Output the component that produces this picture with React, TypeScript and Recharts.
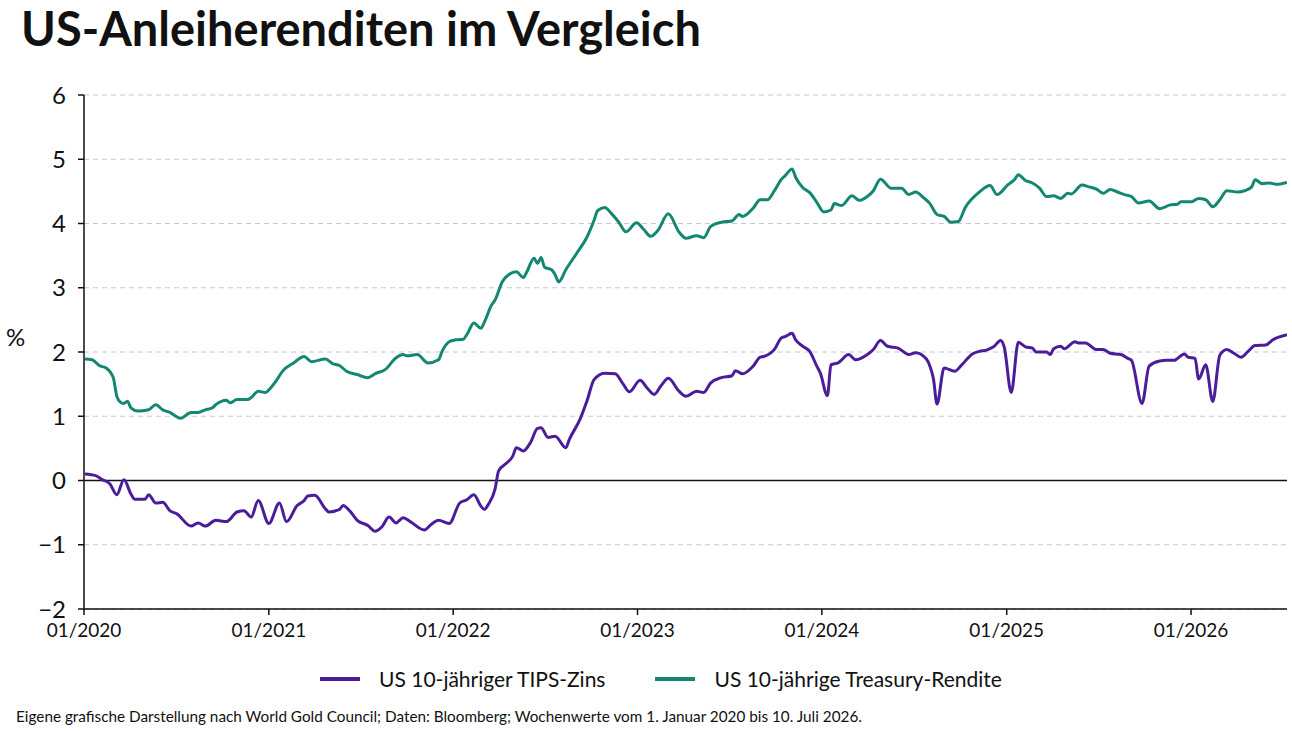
import { LineChart, Line, XAxis, YAxis, CartesianGrid, ReferenceLine } from 'recharts';

const DAY = 86400000;
// weekly values, week 0 = Friday 3 Jan 2020
const FIRST_WEEK = Date.UTC(2020, 0, 3);
const START = Date.UTC(2020, 0, 1);
const END = Date.UTC(2026, 6, 10);

const yearTicks = [2020, 2021, 2022, 2023, 2024, 2025, 2026];
const yTicks = [-2, -1, 0, 1, 2, 3, 4, 5, 6];

const tipsWeeks = [
  0, 3, 5, 7, 9, 11, 13, 14, 17, 18, 20, 22, 24, 26, 30, 32, 34, 37, 40, 43, 45, 47, 49, 52, 55, 57, 60, 62, 63,
  65, 68, 69, 72, 73, 75, 77, 80, 82, 84, 86, 88, 90, 92, 96, 98, 100, 103, 106, 108, 110, 112, 113, 114, 116,
  117, 119, 121, 122, 124, 126, 128, 129, 131, 133, 136, 137, 140, 142, 144, 147, 150, 152, 154, 157, 159, 161,
  163, 165, 168, 170, 173, 175, 177, 180, 183, 184, 186, 189, 191, 192, 195, 197, 198, 200, 201, 203, 205, 207,
  208, 210, 211, 213, 216, 218, 221, 223, 225, 227, 230, 233, 235, 238, 239, 240, 241, 243, 246, 248, 251, 253,
  255, 257, 259, 260, 262, 264, 266, 268, 269, 272, 273, 274, 276, 277, 280, 281, 283, 286, 288, 290, 293, 295,
  296, 299, 301, 304, 306, 308, 311, 312, 314, 315, 317, 319, 321, 323, 325, 327, 329, 331, 334, 336, 340,
];
const tipsValues = [
  0.1, 0.075, 0.01, -0.05, -0.22, 0.01, -0.21, -0.29, -0.29, -0.22, -0.35, -0.34, -0.47, -0.52, -0.71, -0.66,
  -0.71, -0.62, -0.64, -0.49, -0.47, -0.57, -0.31, -0.67, -0.35, -0.64, -0.39, -0.31, -0.24, -0.23, -0.44, -0.49,
  -0.45, -0.39, -0.48, -0.62, -0.7, -0.79, -0.72, -0.57, -0.66, -0.58, -0.64, -0.77, -0.68, -0.62, -0.67, -0.35,
  -0.3, -0.22, -0.4, -0.45, -0.38, -0.13, 0.15, 0.26, 0.38, 0.51, 0.46, 0.59, 0.81, 0.82, 0.67, 0.69, 0.51, 0.64,
  0.95, 1.24, 1.57, 1.67, 1.66, 1.52, 1.38, 1.56, 1.44, 1.34, 1.48, 1.59, 1.39, 1.31, 1.39, 1.37, 1.52, 1.6, 1.63,
  1.71, 1.66, 1.78, 1.92, 1.93, 2.04, 2.22, 2.24, 2.29, 2.19, 2.09, 2.01, 1.78, 1.67, 1.32, 1.8, 1.83, 1.96, 1.88,
  1.95, 2.04, 2.18, 2.09, 2.06, 1.96, 1.99, 1.89, 1.78, 1.58, 1.19, 1.75, 1.7, 1.8, 1.97, 2.01, 2.03, 2.08, 2.18,
  2.08, 1.37, 2.15, 2.08, 2.06, 2.0, 2.0, 1.96, 2.05, 2.09, 2.05, 2.16, 2.14, 2.14, 2.04, 2.04, 1.98, 1.96, 1.9,
  1.87, 1.2, 1.78, 1.86, 1.87, 1.87, 1.97, 1.92, 1.9, 1.58, 1.8, 1.23, 1.95, 2.04, 1.98, 1.92, 2.01, 2.1, 2.11,
  2.19, 2.27,
];

const treasuryWeeks = [
  0, 2, 4, 6, 8, 9, 10, 11, 12, 13, 15, 18, 20, 22, 24, 27, 30, 32, 34, 36, 37, 40, 41, 43, 46, 47, 49, 51, 52, 54,
  56, 59, 62, 64, 68, 70, 72, 74, 77, 80, 82, 85, 88, 90, 91, 94, 97, 100, 101, 103, 105, 107, 108, 110, 112, 113,
  115, 116, 118, 120, 122, 124, 125, 127, 128, 129, 130, 132, 133, 134, 136, 139, 142, 144, 145, 147, 149, 151,
  153, 156, 158, 160, 162, 165, 168, 170, 173, 175, 177, 180, 183, 185, 186, 189, 191, 193, 195, 197, 198, 200,
  201, 203, 205, 207, 209, 211, 212, 214, 217, 219, 221, 223, 225, 228, 231, 233, 235, 237, 239, 241, 243, 245,
  247, 249, 253, 256, 258, 261, 263, 264, 266, 268, 270, 272, 274, 276, 278, 279, 282, 284, 286, 288, 290, 292,
  294, 296, 298, 301, 304, 307, 309, 310, 313, 315, 317, 319, 321, 323, 326, 328, 330, 331, 333, 335, 337, 340,
];
const treasuryValues = [
  1.89, 1.88, 1.79, 1.75, 1.6, 1.31, 1.22, 1.2, 1.235, 1.13, 1.08, 1.1, 1.18, 1.1, 1.06, 0.97, 1.06, 1.06, 1.1,
  1.13, 1.18, 1.25, 1.21, 1.26, 1.26, 1.29, 1.39, 1.37, 1.41, 1.545, 1.71, 1.83, 1.93, 1.85, 1.89, 1.82, 1.79, 1.7,
  1.65, 1.6, 1.66, 1.73, 1.91, 1.96, 1.94, 1.96, 1.83, 1.88, 2.01, 2.16, 2.19, 2.2, 2.27, 2.45, 2.37, 2.47, 2.73,
  2.81, 3.09, 3.21, 3.25, 3.16, 3.25, 3.46, 3.38, 3.47, 3.32, 3.28, 3.2, 3.09, 3.28, 3.53, 3.79, 4.05, 4.2, 4.25,
  4.15, 4.02, 3.87, 4.01, 3.91, 3.8, 3.89, 4.15, 3.87, 3.77, 3.81, 3.78, 3.955, 4.02, 4.04, 4.14, 4.11, 4.24, 4.37,
  4.37, 4.51, 4.69, 4.74, 4.85, 4.72, 4.56, 4.48, 4.33, 4.18, 4.21, 4.31, 4.28, 4.43, 4.36, 4.41, 4.51, 4.69, 4.55,
  4.55, 4.45, 4.49, 4.41, 4.31, 4.14, 4.11, 4.02, 4.03, 4.25, 4.49, 4.59, 4.45, 4.6, 4.69, 4.76, 4.67, 4.63, 4.55,
  4.42, 4.43, 4.39, 4.47, 4.46, 4.6, 4.57, 4.54, 4.47, 4.53, 4.49, 4.45, 4.42, 4.32, 4.35, 4.23, 4.29, 4.3, 4.34,
  4.34, 4.39, 4.37, 4.26, 4.37, 4.51, 4.49, 4.51, 4.57, 4.68, 4.62, 4.63, 4.61, 4.64,
];

const seriesNames = ['US 10-jähriger TIPS-Zins', 'US 10-jährige Treasury-Rendite'];
const seriesColors = ['#4c1d9b', '#138770'];

const FONT = 'Lato, "Open Sans", sans-serif';

const toPoints = (weeks: number[], values: number[]) =>
  weeks.map((w, i) => ({ t: FIRST_WEEK + w * 7 * DAY, v: values[i] }));

const tipsData = toPoints(tipsWeeks, tipsValues);
const treasuryData = toPoints(treasuryWeeks, treasuryValues);

const formatYear = (t: number) => '01/' + new Date(t).getUTCFullYear();
const formatPct = (v: number) => (v < 0 ? '\u2212' + Math.abs(v) : String(v));

export default function App() {
  return (
    <div
      style={{
        position: 'absolute',
        left: 0,
        top: 0,
        width: 1292,
        height: 733,
        background: '#fff',
        fontFamily: FONT,
        color: '#111',
      }}
    >
      <div style={{ position: 'absolute', left: 21, top: 0, fontSize: 47, fontWeight: 700, letterSpacing: 0 }}>
        US-Anleiherenditen im Vergleich
      </div>
      <div style={{ position: 'absolute', left: 6, top: 322, fontSize: 24 }}>%</div>

      <div style={{ position: 'absolute', left: 0, top: 0 }}>
        <LineChart width={1292} height={733} margin={{ top: 95, right: 5, left: 0, bottom: 84 }}>
          <CartesianGrid horizontal vertical={false} stroke="#c8c8c8" strokeDasharray="5 4" />
          <XAxis
            dataKey="t"
            type="number"
            domain={[START, END]}
            ticks={yearTicks.map((y) => Date.UTC(y, 0, 1))}
            tickFormatter={formatYear}
            allowDataOverflow
            height={40}
            stroke="#111"
            strokeWidth={1.5}
            tickSize={6}
            tickMargin={9}
            tick={{ fontSize: 19, fill: '#111', fontFamily: FONT }}
          />
          <YAxis
            type="number"
            domain={[-2, 6]}
            ticks={yTicks}
            tickFormatter={formatPct}
            width={84}
            stroke="#111"
            strokeWidth={1.5}
            tickSize={6}
            tickMargin={12}
            tick={{ fontSize: 24, fill: '#111', fontFamily: FONT }}
          />
          <ReferenceLine y={0} stroke="#111" strokeWidth={1.5} />
          <Line
            data={treasuryData}
            dataKey="v"
            name={seriesNames[1]}
            type="monotone"
            stroke={seriesColors[1]}
            strokeWidth={3}
            dot={false}
            isAnimationActive={false}
          />
          <Line
            data={tipsData}
            dataKey="v"
            name={seriesNames[0]}
            type="monotone"
            stroke={seriesColors[0]}
            strokeWidth={3}
            dot={false}
            isAnimationActive={false}
          />
        </LineChart>
      </div>

      <div
        style={{
          position: 'absolute',
          left: 320,
          top: 666,
          display: 'flex',
          alignItems: 'center',
          fontSize: 21,
        }}
      >
        {seriesNames.map((name, i) => (
          <div key={name} style={{ display: 'flex', alignItems: 'center', marginRight: 50 }}>
            <span style={{ width: 40, height: 4, background: seriesColors[i], marginRight: 19, display: 'inline-block' }} />
            <span>{name}</span>
          </div>
        ))}
      </div>

      <div style={{ position: 'absolute', left: 16, top: 707, fontSize: 15.3 }}>
        Eigene grafische Darstellung nach World Gold Council; Daten: Bloomberg; Wochenwerte vom 1. Januar 2020 bis 10.
        Juli 2026.
      </div>
    </div>
  );
}
